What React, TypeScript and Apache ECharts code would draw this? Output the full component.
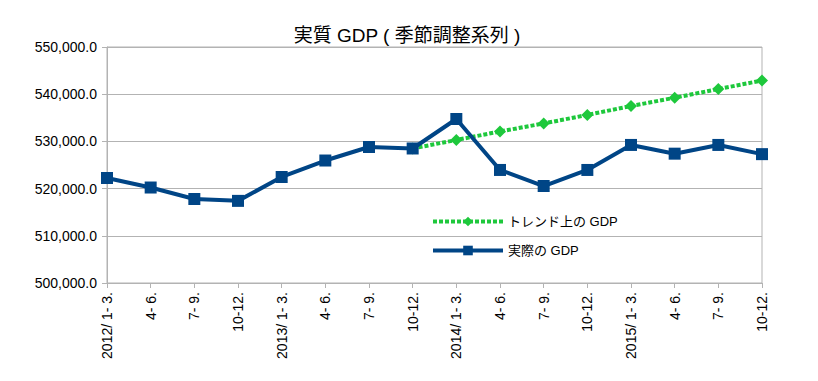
import React, { useEffect, useRef } from "react";
import * as echarts from "echarts";

const categories = [
  "2012/ 1- 3.", "4- 6.", "7- 9.", "10-12.",
  "2013/ 1- 3.", "4- 6.", "7- 9.", "10-12.",
  "2014/ 1- 3.", "4- 6.", "7- 9.", "10-12.",
  "2015/ 1- 3.", "4- 6.", "7- 9.", "10-12.",
];

const actualGdp = [
  522250, 520230, 517800, 517400, 522460, 525950, 528810, 528500,
  534750, 523950, 520550, 523950, 529250, 527400, 529250, 527300,
];

const trendGdp: (number | string)[] = [
  "-", "-", "-", "-", "-", "-", "-", 528500,
  530300, 532100, 533800, 535600, 537500, 539250, 541100, 542900,
];

const yMin = 500000;
const yMax = 550000;
const yStep = 10000;

const FONT = "'Liberation Sans', 'Noto Sans CJK JP', sans-serif";
const GREEN = "#1ec83c";
const BLUE = "#004586";

export default function App() {
  const ref = useRef<HTMLDivElement>(null);
  useEffect(() => {
    if (!ref.current) return;
    const chart = echarts.init(ref.current, null, { renderer: "svg" });
    chart.setOption({
      animation: false,
      backgroundColor: "#ffffff",
      textStyle: { fontFamily: FONT },
      title: {
        text: "実質 GDP ( 季節調整系列 )",
        left: 402,
        textAlign: "center",
        top: 21,
        textStyle: { fontSize: 19, fontWeight: "normal", color: "#000", fontFamily: FONT },
      },
      grid: {
        left: 107,
        right: 56,
        top: 47,
        bottom: 98,
        show: true,
        borderColor: "#b3b3b3",
        borderWidth: 1,
      },
      legend: {
        orient: "vertical",
        left: 431,
        top: 215,
        padding: 0,
        itemWidth: 70,
        itemHeight: 12,
        itemGap: 16,
        textStyle: { fontSize: 13, color: "#000", fontFamily: FONT },
        data: [
          {
            name: "トレンド上の GDP",
            lineStyle: { width: 4, color: GREEN, type: [4, 2] },
            itemStyle: { color: GREEN },
          },
          {
            name: "実際の GDP",
            lineStyle: { width: 4, color: BLUE },
            itemStyle: { color: BLUE },
          },
        ],
      },
      xAxis: {
        type: "category",
        data: categories,
        boundaryGap: false,
        axisLine: { lineStyle: { color: "#b3b3b3" } },
        axisTick: { show: true, length: 5, alignWithLabel: true, lineStyle: { color: "#b3b3b3" } },
        axisLabel: { rotate: 90, interval: 0, fontSize: 14, color: "#000", margin: 9, fontFamily: FONT },
        splitLine: { show: false },
      },
      yAxis: {
        type: "value",
        min: yMin,
        max: yMax,
        interval: yStep,
        axisLine: { show: true, lineStyle: { color: "#b3b3b3" } },
        axisTick: { show: true, length: 5, lineStyle: { color: "#b3b3b3" } },
        axisLabel: {
          fontSize: 14,
          color: "#000",
          margin: 10,
          fontFamily: FONT,
          formatter: (v: number) =>
            v.toLocaleString("en-US", { minimumFractionDigits: 1, maximumFractionDigits: 1 }),
        },
        splitLine: { lineStyle: { color: "#b3b3b3" } },
      },
      series: [
        {
          name: "トレンド上の GDP",
          type: "line",
          data: trendGdp,
          symbol: "diamond",
          symbolSize: 12,
          itemStyle: { color: GREEN },
          lineStyle: { color: GREEN, width: 4, type: [4, 2] },
        },
        {
          name: "実際の GDP",
          type: "line",
          data: actualGdp,
          symbol: "rect",
          symbolSize: 12,
          itemStyle: { color: BLUE },
          lineStyle: { color: BLUE, width: 4 },
        },
      ],
    });
    return () => chart.dispose();
  }, []);
  return (
    <div
      ref={ref}
      style={{ position: "fixed", left: 0, top: 0, width: 818, height: 381 }}
    />
  );
}
